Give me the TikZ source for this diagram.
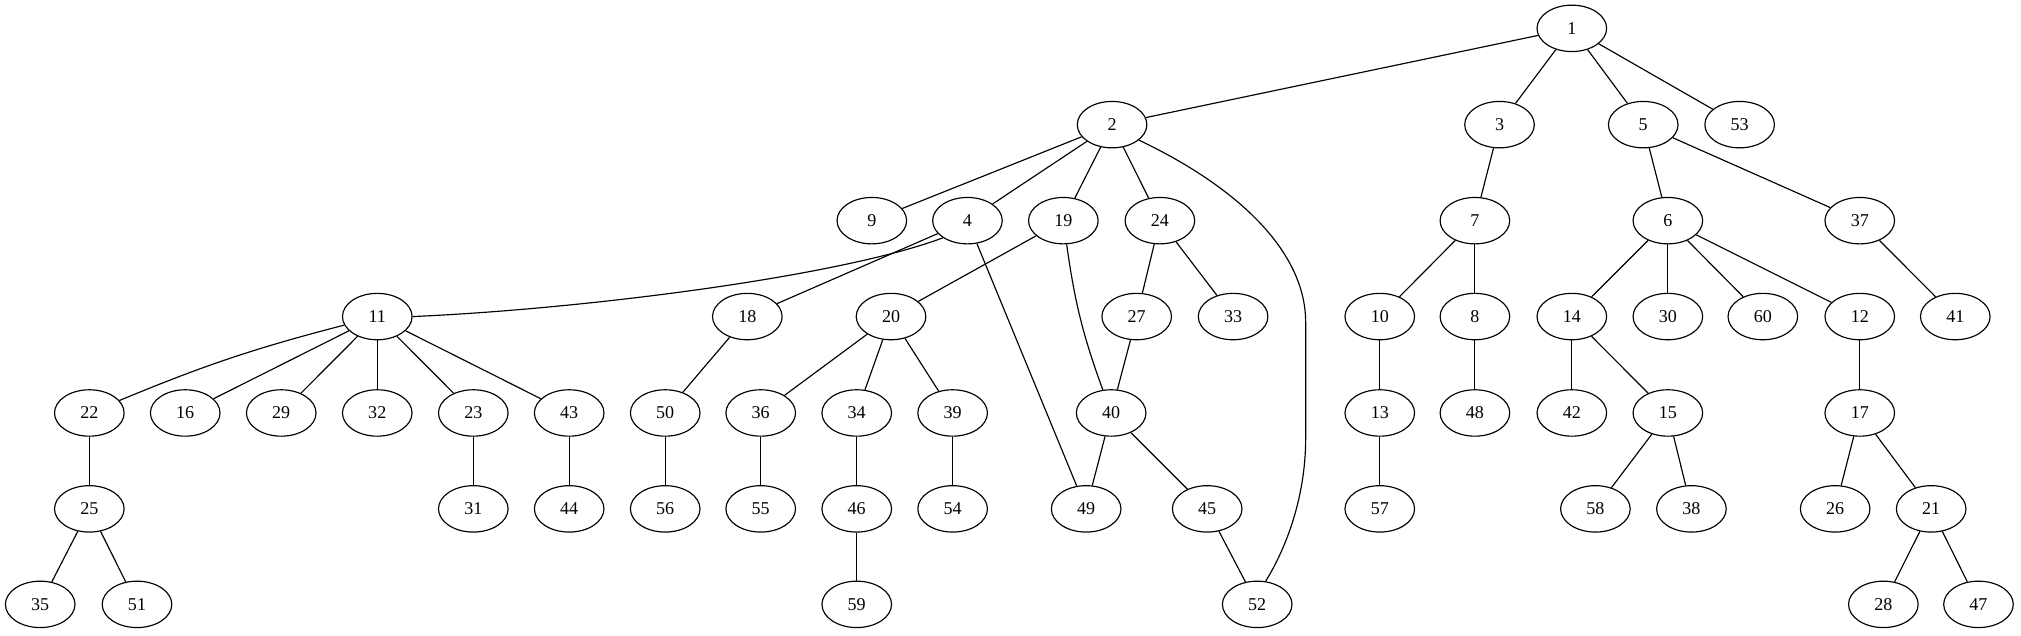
\documentclass[tikz,border=0pt]{standalone}
\usepackage{fontspec}
\setmainfont{Liberation Serif}
\usetikzlibrary{shapes.geometric}
\begin{document}
\begin{tikzpicture}[x=1pt,y=-1pt,
  v/.style={draw,ellipse,line width=0.9pt,minimum width=54pt,minimum height=36pt,inner sep=0pt,font=\fontsize{14}{16}\selectfont},
  e/.style={line width=0.9pt}]
\useasboundingbox (0,0) rectangle (1568,493);
\foreach \n/\x/\y in {1/1219.5/22,
 2/862.8/96.7, 3/1163.4/96.7, 5/1274.9/96.7, 53/1349.7/96.7,
 9/676.4/171.2, 4/750.6/171.2, 19/825.0/171.2, 24/899.9/171.2, 7/1144.3/171.2, 6/1294.0/171.2, 37/1442.9/171.2,
 11/292.7/245.6, 18/579.8/245.6, 20/691.3/245.6, 27/881.9/245.6, 33/956.7/245.6, 10/1070.5/245.6, 8/1144.3/245.6, 14/1219.5/245.6, 30/1294.0/245.6, 60/1367.7/245.6, 12/1442.9/245.6, 41/1517.0/245.6,
 22/69.3/320.4, 16/143.7/320.4, 29/218.2/320.4, 32/292.7/320.4, 23/367.2/320.4, 43/441.6/320.4, 50/516.1/320.4, 36/590.2/320.4, 34/664.7/320.4, 39/739.1/320.4, 40/862.1/320.4, 13/1070.5/320.4, 48/1144.3/320.4, 42/1219.5/320.4, 15/1294.0/320.4, 17/1442.9/320.4,
 25/69.3/394.8, 31/367.2/394.8, 44/441.6/394.8, 56/516.1/394.8, 55/590.2/394.8, 46/664.7/394.8, 54/739.1/394.8, 49/842.7/394.8, 45/936.6/394.8, 57/1070.5/394.8, 58/1237.8/394.8, 38/1312.3/394.8, 26/1423.8/394.8, 21/1498.3/394.8,
 35/31.2/468.9, 51/106.3/468.9, 59/664.7/468.9, 52/975.4/468.9, 28/1461.2/468.9, 47/1535.0/468.9}
  \node[v] (n\n) at (\x,\y) {\n};
\foreach \a/\b in {1/2,1/3,1/5,1/53,2/9,2/4,2/19,2/24,3/7,5/6,5/37,4/18,4/49,19/20,24/27,24/33,
 7/10,7/8,6/14,6/30,6/60,6/12,37/41,11/16,11/29,11/32,11/23,11/43,18/50,20/36,20/34,20/39,
 27/40,10/13,8/48,14/42,14/15,12/17,22/25,23/31,43/44,50/56,36/55,34/46,39/54,40/49,40/45,
 13/57,15/58,15/38,17/26,17/21,25/35,25/51,46/59,45/52,21/28,21/47}
  \draw[e] (n\a) -- (n\b);
\draw[e] (n11) to[bend right=4] (n22);
\draw[e] (n19) to[bend right=6] (n40);
\draw[e] (n11.east) .. controls (450,240) and (650,215) .. (n4.-145);
\draw[e] (n2.-30) .. controls (960,145) and (1013,195) .. (1013,250) -- (1013,340) .. controls (1013,390) and (995,430) .. (n52.70);
\end{tikzpicture}
\end{document}
